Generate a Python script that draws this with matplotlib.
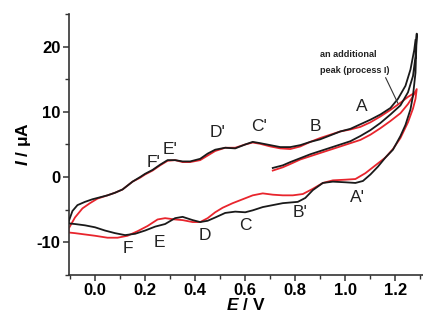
import matplotlib
matplotlib.use("Agg")
import matplotlib.pyplot as plt
from matplotlib.ticker import MultipleLocator

plt.rcParams['font.family'] = ['Liberation Sans', 'DejaVu Sans']
plt.rcParams['mathtext.fontset'] = 'custom'
plt.rcParams['mathtext.rm'] = 'Liberation Sans'
plt.rcParams['mathtext.it'] = 'Liberation Sans:italic'
plt.rcParams['mathtext.bf'] = 'Liberation Sans:bold'
plt.rcParams['mathtext.bfit'] = 'Liberation Sans:italic:bold'

# Black cycle: initial sweep from 0.7 V, cathodic return, anodic sweep
black_E = [0.71, 0.75, 0.78, 0.82, 0.86, 0.90, 0.94, 0.98, 1.02, 1.06, 1.10, 1.14, 1.18, 1.22, 1.25, 1.27, 1.28, 1.285,
           1.28, 1.27, 1.26, 1.24, 1.22, 1.19, 1.16, 1.13, 1.10, 1.07, 1.04, 1.00, 0.95, 0.91, 0.87, 0.84, 0.81, 0.78,
           0.75, 0.71, 0.67, 0.63, 0.60, 0.56, 0.52, 0.48, 0.45, 0.42, 0.39, 0.35, 0.32, 0.28, 0.24, 0.20, 0.16, 0.12,
           0.08, 0.04, 0.00, -0.04, -0.08, -0.105,
           -0.105, -0.09, -0.07, -0.04, -0.01, 0.02, 0.05, 0.08, 0.11, 0.13, 0.15, 0.18, 0.20, 0.23, 0.26, 0.29, 0.32,
           0.35, 0.38, 0.42, 0.45, 0.48, 0.52, 0.56, 0.60, 0.63, 0.66, 0.70, 0.74, 0.78, 0.82, 0.86, 0.90, 0.94, 0.98,
           1.02, 1.06, 1.10, 1.14, 1.18, 1.21, 1.24, 1.26, 1.275, 1.28]
black_I = [1.4, 1.8, 2.3, 2.9, 3.5, 4.0, 4.5, 5.0, 5.5, 6.3, 7.2, 8.3, 9.6, 11.0, 13.0, 15.5, 18.5, 22.0,
           16.0, 12.5, 10.4, 8.0, 6.3, 4.2, 3.0, 1.6, 0.4, -0.6, -0.9, -0.8, -0.7, -0.9, -2.0, -3.2, -3.8, -3.9,
           -4.0, -4.3, -4.6, -5.1, -5.4, -5.3, -5.5, -6.2, -6.7, -6.9, -6.6, -6.1, -6.3, -7.2, -7.6, -8.2, -8.7, -8.9,
           -8.6, -8.2, -7.7, -7.4, -7.2, -7.1,
           -6.8, -5.2, -4.3, -3.8, -3.4, -3.1, -2.8, -2.4, -1.9, -1.3, -0.7, 0.0, 0.5, 1.1, 1.9, 2.6, 2.6,
           2.4, 2.4, 2.8, 3.6, 4.2, 4.5, 4.4, 5.0, 5.4, 5.2, 4.9, 4.6, 4.6, 4.9, 5.4, 5.8, 6.4, 7.0,
           7.4, 8.1, 8.8, 9.6, 10.6, 12.0, 14.0, 16.5, 19.5, 21.0]

# Red cycle
red_E = [0.71, 0.75, 0.78, 0.82, 0.86, 0.90, 0.94, 0.98, 1.02, 1.06, 1.10, 1.14, 1.18, 1.22, 1.25, 1.27, 1.285,
         1.28, 1.27, 1.25, 1.22, 1.19, 1.16, 1.12, 1.08, 1.04, 1.00, 0.95, 0.91, 0.87, 0.83, 0.79, 0.75, 0.71,
         0.67, 0.63, 0.59, 0.55, 0.51, 0.48, 0.45, 0.42, 0.39, 0.35, 0.32, 0.28, 0.25, 0.21, 0.17, 0.13, 0.09,
         0.05, 0.00, -0.04, -0.08, -0.105,
         -0.105, -0.08, -0.05, -0.02, 0.01, 0.05, 0.08, 0.11, 0.13, 0.15, 0.18, 0.20, 0.23, 0.26, 0.29, 0.32,
         0.35, 0.38, 0.42, 0.45, 0.48, 0.52, 0.56, 0.60, 0.63, 0.66, 0.70, 0.74, 0.78, 0.82, 0.86, 0.90, 0.94,
         0.98, 1.02, 1.06, 1.10, 1.14, 1.18, 1.22, 1.25, 1.28]
red_I = [1.0, 1.5, 2.0, 2.7, 3.2, 3.7, 4.2, 4.7, 5.2, 5.7, 6.5, 7.5, 8.6, 9.8, 11.2, 12.4, 13.5,
         12.0, 10.5, 8.4, 6.0, 4.3, 3.0, 1.8, 0.6, -0.3, -0.4, -0.5, -0.9, -1.8, -2.6, -2.8, -2.8, -2.7,
         -2.5, -2.8, -3.4, -4.0, -4.7, -5.4, -6.3, -6.9, -6.9, -6.6, -6.5, -6.3, -6.5, -7.5, -8.3, -9.0, -9.3,
         -9.3, -9.0, -8.8, -8.6, -8.5,
         -7.9, -6.2, -4.8, -4.0, -3.3, -2.8, -2.4, -1.9, -1.3, -0.7, -0.1, 0.4, 1.0, 1.8, 2.5, 2.6,
         2.3, 2.3, 2.6, 3.3, 4.0, 4.5, 4.5, 5.0, 5.3, 5.1, 4.7, 4.4, 4.3, 4.7, 5.4, 6.0, 6.5,
         7.0, 7.3, 7.7, 8.4, 9.3, 10.3, 11.4, 12.3, 13.0]

# Peak labels and their positions (E, I)
peak_labels = ["A", "B", "C'", "D'", "E'", "F'", "F", "E", "D", "C", "B'", "A'"]
peak_E = [1.064, 0.88, 0.656, 0.488, 0.30, 0.232, 0.132, 0.256, 0.44, 0.60, 0.82, 1.048]
peak_I = [10.8, 7.7, 7.7, 6.8, 4.2, 2.3, -10.9, -10.0, -8.9, -7.4, -5.5, -3.2]

fig = plt.figure(figsize=(4.23, 3.20), dpi=100)
ax = fig.add_axes([0.163, 0.141, 0.837, 0.815])

ax.plot(black_E, black_I, color='#1a1a1a', lw=1.3, zorder=3)
ax.plot(red_E, red_I, color='#e8252d', lw=1.3, zorder=2)

for lab, x, y in zip(peak_labels, peak_E, peak_I):
    ax.text(x, y, lab, fontsize=12.5, ha='center', va='center', color='#222222')

ax.annotate("an additional\npeak (process I)", xy=(1.21, 11.3), xytext=(0.90, 17.6),
            fontsize=6.6, fontweight='bold', ha='left', va='center', linespacing=2.0,
            color='#222222',
            arrowprops=dict(arrowstyle='-', color='#333333', lw=0.8,
                            shrinkA=0, shrinkB=0, relpos=(0.92, 0.0)))

ax.set_xlim(-0.104, 1.31)
ax.set_ylim(-15, 25)
ax.xaxis.set_minor_locator(MultipleLocator(0.1))
ax.yaxis.set_minor_locator(MultipleLocator(5))
ax.set_xticks([0.0, 0.2, 0.4, 0.6, 0.8, 1.0, 1.2])
ax.set_xticklabels(["0.0", "0.2", "0.4", "0.6", "0.8", "1.0", "1.2"])
ax.set_yticks([-10, 0, 10, 20])
ax.set_yticklabels(["-10", "0", "10", "20"])

for s in ['top', 'right']:
    ax.spines[s].set_visible(False)
for s in ['left', 'bottom']:
    ax.spines[s].set_linewidth(1.2)
    ax.spines[s].set_color('#333333')

ax.tick_params(which='major', length=4, width=1.1, direction='out', color='#333333',
               labelsize=12, pad=2)
ax.tick_params(which='minor', length=3, width=1.0, direction='out', color='#333333')
for lbl in ax.get_xticklabels() + ax.get_yticklabels():
    lbl.set_fontweight('bold')

ax.set_xlabel(r"$\bfit{E}$ / V", fontsize=12.5, fontweight='bold', labelpad=-1)
ax.set_ylabel(r"$\bfit{I}$ / μA", fontsize=12.5, fontweight='bold', labelpad=3)

fig.savefig("out.png", dpi=100)
